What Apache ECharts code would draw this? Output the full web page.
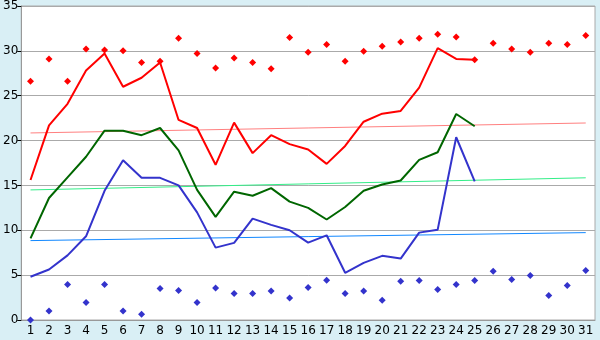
<!DOCTYPE html>
<html>
<head>
<meta charset="utf-8">
<script src="https://cdn.jsdelivr.net/npm/echarts@6/dist/echarts.min.js"></script>
<style>
  html, body { margin: 0; padding: 0; background: #d9eff5; }
  #chart { width: 600px; height: 340px; }
</style>
</head>
<body>
<div id="chart"></div>
<script>
var days = []
for (var d = 1; d <= 31; d++) days.push(String(d))

// lines (days 1-25)
var redLine = [15.6, 21.7, 24.1, 27.8, 29.7, 26.0, 27.0, 28.7, 22.3, 21.4, 17.3, 22.0, 18.6, 20.6, 19.6, 19.0, 17.4, 19.4, 22.1, 23.0, 23.3, 25.9, 30.3, 29.1, 29.0]
var greenLine = [9.1, 13.6, 15.9, 18.2, 21.1, 21.1, 20.6, 21.4, 18.9, 14.5, 11.5, 14.3, 13.85, 14.7, 13.2, 12.5, 11.2, 12.6, 14.4, 15.1, 15.55, 17.85, 18.7, 22.96, 21.6]
var blueLine = [4.82, 5.63, 7.2, 9.33, 14.4, 17.8, 15.85, 15.85, 15.0, 12.0, 8.07, 8.6, 11.3, 10.6, 10.0, 8.63, 9.44, 5.26, 6.37, 7.15, 6.85, 9.74, 10.07, 20.37, 15.44]

// points (days 1-31)
var redDots = [26.6, 29.1, 26.6, 30.2, 30.1, 30.0, 28.7, 28.85, 31.4, 29.7, 28.1, 29.2, 28.7, 28.0, 31.5, 29.85, 30.7, 28.85, 29.96, 30.5, 31.0, 31.4, 31.85, 31.55, 29.0, 30.85, 30.2, 29.85, 30.85, 30.7, 31.7]
var blueDots = [0, 1.0, 3.96, 1.96, 3.96, 1.0, 0.63, 3.5, 3.3, 1.96, 3.56, 2.96, 2.96, 3.22, 2.44, 3.63, 4.44, 2.96, 3.22, 2.19, 4.33, 4.41, 3.4, 3.96, 4.41, 5.44, 4.52, 4.96, 2.74, 3.85, 5.52]

// trend lines: value at day 1 and day 31
var redTrend = [20.85, 21.96]
var greenTrend = [14.5, 15.85]
var blueTrend = [8.85, 9.74]

function ends(pair) {
  return [[days[0], pair[0]], [days[days.length - 1], pair[1]]]
}

var chart = echarts.init(document.getElementById('chart'))
var font = 'DejaVu Sans, Verdana, sans-serif'

chart.setOption({
  backgroundColor: '#d9eff5',
  animation: false,
  grid: {
    left: 20,
    right: 5,
    top: 5,
    bottom: 20,
    show: true,
    backgroundColor: '#ffffff',
    borderColor: '#aaaaaa',
    borderWidth: 1
  },
  xAxis: {
    type: 'category',
    data: days,
    boundaryGap: true,
    axisLine: { lineStyle: { color: '#999999' } },
    axisTick: { alignWithLabel: true, length: 5, lineStyle: { color: '#000000' } },
    axisLabel: { color: '#000000', fontFamily: font, fontSize: 12, margin: 5, interval: 0 },
    splitLine: { show: false }
  },
  yAxis: {
    type: 'value',
    min: 0,
    max: 35,
    interval: 5,
    axisLine: { show: true, lineStyle: { color: '#999999' } },
    axisTick: { show: true, length: 4, lineStyle: { color: '#000000' } },
    axisLabel: { color: '#000000', fontFamily: font, fontSize: 12, margin: 3 },
    splitLine: { lineStyle: { color: '#aaaaaa', width: 1 } }
  },
  series: [
    { type: 'line', data: ends(redTrend), symbol: 'none', lineStyle: { color: '#ff8080', width: 1 } },
    { type: 'line', data: ends(greenTrend), symbol: 'none', lineStyle: { color: '#33ee88', width: 1 } },
    { type: 'line', data: ends(blueTrend), symbol: 'none', lineStyle: { color: '#1188ff', width: 1 } },
    { type: 'line', data: redLine, symbol: 'none', lineStyle: { color: '#ff0000', width: 2 } },
    { type: 'line', data: greenLine, symbol: 'none', lineStyle: { color: '#006600', width: 2 } },
    { type: 'line', data: blueLine, symbol: 'none', lineStyle: { color: '#3333cc', width: 2 } },
    { type: 'scatter', data: redDots, symbol: 'diamond', symbolSize: 7, itemStyle: { color: '#ff0000', opacity: 1 } },
    { type: 'scatter', data: blueDots, symbol: 'diamond', symbolSize: 7, itemStyle: { color: '#3333cc', opacity: 1 } }
  ]
})
</script>
</body>
</html>
